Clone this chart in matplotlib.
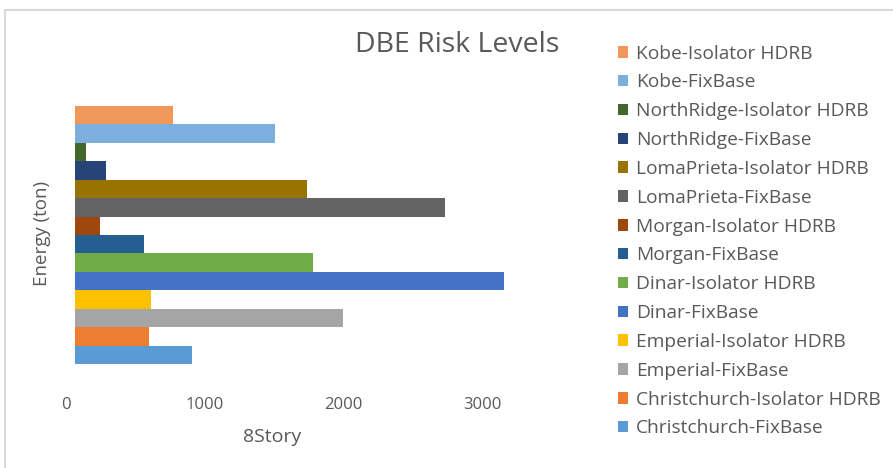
import matplotlib.pyplot as plt
import matplotlib.transforms as mtransforms
from matplotlib.patches import Rectangle

plt.rcParams['font.family'] = ['Open Sans', 'DejaVu Sans']

# dissipated energy per record, 8 story frame (top to bottom)
series = ['Kobe-Isolator HDRB', 'Kobe-FixBase',
          'NorthRidge-Isolator HDRB', 'NorthRidge-FixBase',
          'LomaPrieta-Isolator HDRB', 'LomaPrieta-FixBase',
          'Morgan-Isolator HDRB', 'Morgan-FixBase',
          'Dinar-Isolator HDRB', 'Dinar-FixBase',
          'Emperial-Isolator HDRB', 'Emperial-FixBase',
          'Christchurch-Isolator HDRB', 'Christchurch-FixBase']
energy = [707, 1442, 79, 224, 1673, 2668, 180, 497,
          1716, 3093, 548, 1932, 534, 844]
colors = ['#F0975A', '#7CAFDD', '#43682B', '#264478', '#997300', '#636363',
          '#9E480E', '#255E91', '#70AD47', '#4472C4', '#FFC000', '#A5A5A5',
          '#ED7D31', '#5B9BD5']
xticks = [0, 1000, 2000, 3000]

fig = plt.figure(figsize=(8.93, 4.68), dpi=100)
# chart area border
fig.patches.append(Rectangle((5 / 893, -0.05), 1.0, 1 - 10 / 468 + 0.05,
                             transform=fig.transFigure, fill=False,
                             edgecolor='#D9D9D9', linewidth=1.5))

ax = fig.add_axes([75 / 893, 1 - 375 / 468, 3100 * 0.1387 / 893, 280 / 468])
n = len(series)
handles = []
for i, (name, val, c) in enumerate(zip(series, energy, colors)):
    b = ax.barh(n - 1 - i, val, height=1.0, color=c, label=name)
    handles.append(b)

ax.set_xlim(0, 3100)
ax.set_ylim(-0.5 - 0.6, n - 0.5 + 0.6)
ax.set_xticks(xticks)
ax.set_xticklabels([str(t) for t in xticks])
ax.set_yticks([])
for s in ax.spines.values():
    s.set_visible(False)
ax.tick_params(axis='x', length=0, labelsize=12, labelcolor='#595959', pad=16)
# value labels sit a little left of their gridline position
shift = mtransforms.ScaledTranslation(-9 / 100, 0, fig.dpi_scale_trans)
for lbl in ax.get_xticklabels():
    lbl.set_transform(lbl.get_transform() + shift)

fig.text(457 / 893, 1 - 45 / 468, 'DBE Risk Levels', ha='center', va='center',
         fontsize=20.5, color='#595959')
fig.text(42 / 893, 1 - 233 / 468, 'Energy (ton)', ha='center', va='center',
         rotation=90, fontsize=13.5, color='#595959')
fig.text(272 / 893, 1 - 437 / 468, '8Story', ha='center', va='center',
         fontsize=14, color='#595959')

leg = fig.legend(handles=handles, loc='upper left',
                 bbox_to_anchor=(610 / 893, 1 - 37 / 468), frameon=False,
                 fontsize=13.8, handlelength=0.55, handleheight=0.55,
                 handletextpad=0.4, labelspacing=0.565, borderaxespad=0)
for t in leg.get_texts():
    t.set_color('#595959')

plt.savefig('out.png', dpi=100)
